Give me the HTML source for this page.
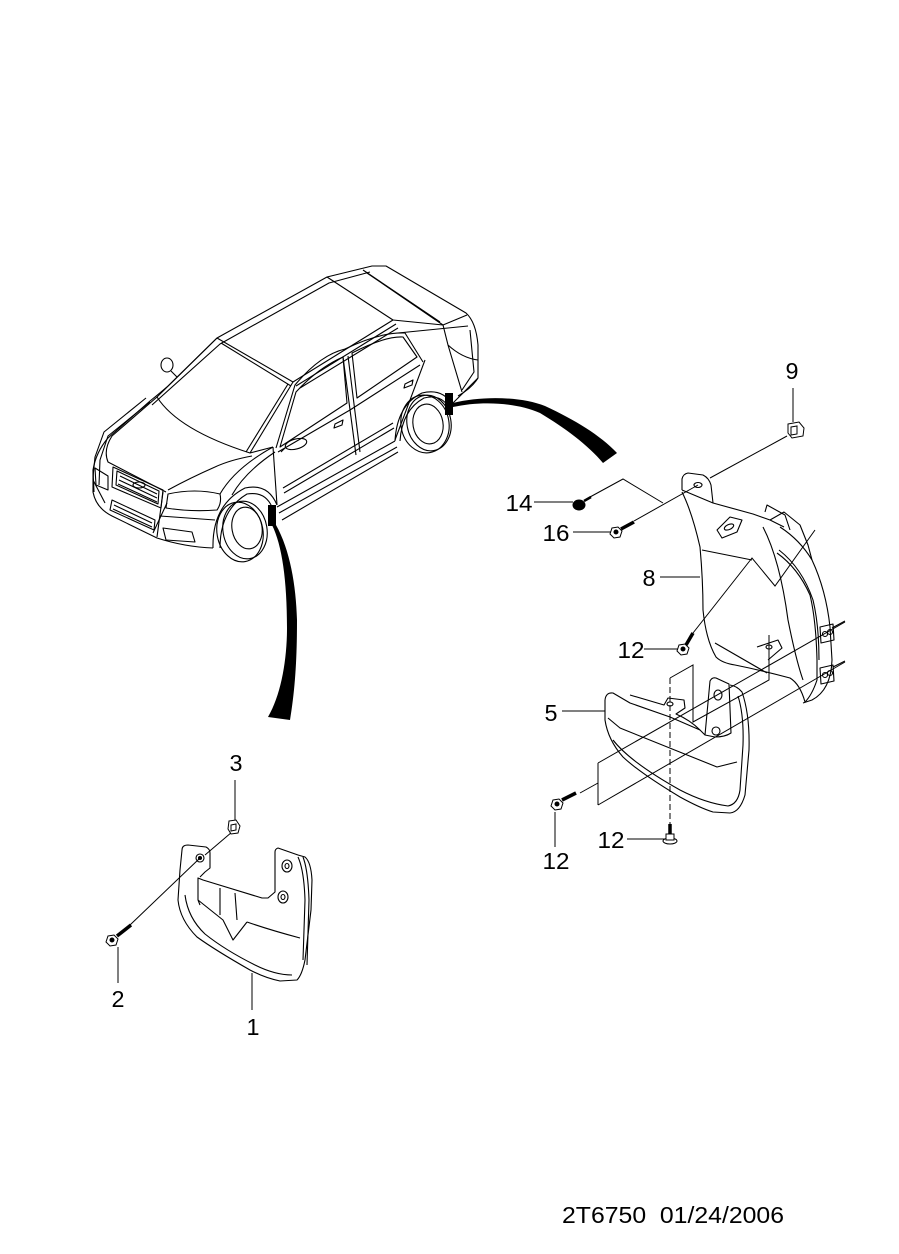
<!DOCTYPE html>
<html><head><meta charset="utf-8"><style>
html,body{margin:0;padding:0;background:#fff;}
svg{display:block;}
text{font-family:"Liberation Sans",Arial,sans-serif;font-size:23px;fill:#000;}
</style></head><body>
<svg width="899" height="1254" viewBox="0 0 899 1254" xmlns="http://www.w3.org/2000/svg">
<rect width="899" height="1254" fill="#fff"/>

<!-- ============ CAR ============ -->
<g fill="none" stroke="#000" stroke-width="1.1" stroke-linejoin="round">
<!-- far silhouette -->
<path d="M94,492 L93,470 Q96,452 108,438 L150,401 Q160,393 168,386 L217,338 L327,277 L372,266 L386,266 L466,313 Q476,322 478,345 L478,378 Q472,388 458,396"/>
<path d="M152,405 L220,344 L329,283 L370,272"/>
<path d="M146,398 L104,432 L95,457 L93,477"/>
<path d="M150,402 L108,436 L100,460 L99,485"/>
<!-- roof -->
<path d="M217,338 L293,382 L393,320 L327,277"/>
<path d="M221,343 L291,386"/>
<path d="M296,386 L396,324"/>
<path d="M300,388 L398,328"/>
<!-- rear window / trunk -->
<path d="M367,273 L443,325 L467,315"/>
<path d="M363,270 L440,322"/>
<path d="M393,320 L443,325"/>
<path d="M443,325 L448,345 L462,392"/>
<path d="M398,333 L468,326"/>
<path d="M448,345 Q462,358 478,360"/>
<path d="M470,330 L474,372 L462,390"/>
<!-- windshield -->
<path d="M217,338 L157,397 Q178,430 250,453 L293,382"/>
<path d="M246,452 L288,384"/>
<!-- hood -->
<path d="M157,397 L112,436 Q103,450 108,462 L166,492"/>
<path d="M250,453 L273,447"/>
<path d="M252,456 Q230,460 215,467 Q190,478 168,490"/>
<path d="M273,447 Q235,468 220,494"/>
<path d="M275,452 Q245,472 232,495"/>
<!-- grille -->
<path d="M113,467 L163,490 L161,508 L112,487 Z"/>
<path d="M117,471 L159,491 L158,504 L116,485 Z"/>
<path d="M120,476 L157,494 M119,480 L157,498 M118,484 L157,502"/>
<ellipse cx="139" cy="485" rx="6" ry="3"/>
<!-- headlights -->
<path d="M168,494 Q195,488 220,494 Q222,503 217,510 Q190,512 166,508 Z"/>
<path d="M95,468 L108,476 L108,490 L96,485 Z"/>
<!-- bumper -->
<path d="M93,470 L93,492 Q96,508 112,516 L157,538 Q185,547 213,548"/>
<path d="M167,503 L153,533"/>
<path d="M163,492 L157,537"/>
<path d="M112,500 L155,520 L154,530 L110,510 Z"/>
<path d="M114,505 L152,523 M113,509 L152,527"/>
<path d="M163,528 L192,532 L195,542 L166,540 Z"/>
<path d="M160,516 L215,520"/>
<path d="M93,480 L105,503"/>
<!-- front wheel -->
<path d="M213,548 Q212,505 245,488 Q268,483 277,505"/>
<path d="M220,548 Q220,510 247,494 Q265,491 272,507"/>
<ellipse cx="240" cy="532" rx="23" ry="30" transform="rotate(-10 240 532)"/>
<ellipse cx="245" cy="530" rx="22" ry="29" transform="rotate(-10 245 530)"/>
<ellipse cx="247" cy="528" rx="15" ry="21" transform="rotate(-10 247 528)"/>
<!-- doors / windows -->
<path d="M273,447 L277,505"/>
<path d="M280,447 L296,392 Q318,368 343,357 L347,403 Z"/>
<path d="M276,448 L295,385 Q320,355 345,349 Q380,332 405,333 L423,362"/>
<path d="M278,452 L350,410 L420,365"/>
<path d="M343,357 L356,455 M348,356 L360,452"/>
<path d="M352,353 Q385,336 403,337 L417,357 L357,398 Z"/>
<path d="M425,360 L395,440"/>
<path d="M277,507 L395,441 M279,513 L397,447 M282,520 L398,452"/>
<path d="M283,488 L393,423 M284,493 L394,428"/>
<path d="M335,424 L343,420 L342,425 L334,428 Z"/>
<path d="M405,384 L413,380 L412,385 L404,388 Z"/>
<ellipse cx="296" cy="444" rx="11" ry="5" transform="rotate(-15 296 444)"/>
<path d="M286,447 L281,452"/>
<ellipse cx="167" cy="365" rx="6" ry="7"/>
<path d="M171,371 L177,377"/>
<!-- rear wheel -->
<path d="M395,441 Q397,405 422,393 Q442,388 452,404"/>
<path d="M400,441 Q402,410 424,398 Q440,394 448,406"/>
<ellipse cx="425" cy="424" rx="24" ry="29" transform="rotate(-10 425 424)"/>
<ellipse cx="429" cy="423" rx="22" ry="28" transform="rotate(-10 429 423)"/>
<ellipse cx="428" cy="424" rx="15" ry="20" transform="rotate(-10 428 424)"/>
<path d="M452,404 L478,378"/>
</g>

<!-- thick bands -->
<g fill="#000" stroke="none">
<rect x="268" y="505" width="8" height="21"/>
<path d="M272,525 C282,545 287,580 287,628 C287,660 281,695 268,717 L290,720 C295,690 297,660 297,620 C296,585 290,550 276,525 Z"/>
<rect x="445" y="393" width="8" height="22"/>
<path d="M453,403 C480,396 520,396 545,406 C575,420 600,435 617,453 L603,463 C588,445 565,428 540,413 C515,402 480,401 453,407 Z"/>
</g>

<!-- ============ PART 8 ============ -->
<g fill="none" stroke="#000" stroke-width="1.1" stroke-linejoin="round">
<path d="M682,490 L682,479 Q683,474 688,473 L703,475 Q709,478 711,485 L713,503"/>
<ellipse cx="698" cy="485" rx="4" ry="2.5"/>
<path d="M682,490 L713,503 L753,514 L770,520 L784,527"/>
<path d="M682,492 Q692,512 700,547 Q703,580 703,610 Q706,640 716,657 Q722,663 735,665 Q760,670 790,678 Q800,684 805,702"/>
<path d="M780,527 Q800,540 812,560 Q826,590 830,627 L832,660 Q831,690 812,700 L803,703"/>
<path d="M777,553 Q798,568 810,595 Q816,620 817,660 L817,680 Q812,695 805,702"/>
<path d="M779,550 Q802,568 813,600 Q819,625 819,660"/>
<path d="M763,527 Q780,560 788,620 Q796,660 803,680"/>
<path d="M765,512 L767,505 L785,515 L790,530"/>
<path d="M770,520 L784,512 L800,525 L808,545 L812,560"/>
<path d="M702,550 L752,560"/>
<path d="M717,530 L730,517 L742,520 L737,532 L722,538 Z"/>
<ellipse cx="729" cy="527" rx="5" ry="2.5" transform="rotate(-25 729 527)"/>
<path d="M757,647 L778,640 L782,648 L768,660"/>
<ellipse cx="769" cy="647" rx="3" ry="2"/>
<path d="M715,643 L767,673"/>
<path d="M820,627 L833,624 L834,640 L821,643 Z"/>
<circle cx="825" cy="634" r="2.5"/><circle cx="830" cy="632" r="2.5"/>
<path d="M820,668 L833,665 L834,681 L821,684 Z"/>
<circle cx="825" cy="675" r="2.5"/><circle cx="830" cy="673" r="2.5"/>
<path d="M832,628 L845,621 M833,667 L845,661"/>
</g>

<!-- ============ PART 5 ============ -->
<g fill="none" stroke="#000" stroke-width="1.1" stroke-linejoin="round">
<path d="M605,700 Q606,692 613,693 L630,703 L670,717 L700,730 L705,735"/>
<path d="M605,700 L605,720 Q608,740 623,757 Q640,773 680,797 Q700,808 713,812 L730,813 Q740,812 745,795 L749,750 Q750,715 742,692 Q737,686 730,685"/>
<path d="M705,735 L710,681 Q712,677 716,678 L729,684 L731,733 Q725,737 715,737 Z"/>
<ellipse cx="718" cy="695" rx="4" ry="5"/>
<ellipse cx="716" cy="731" rx="4" ry="4"/>
<path d="M608,718 L620,728 L717,767 L737,762"/>
<path d="M613,740 Q630,762 680,790 Q705,803 728,806 Q738,804 740,790 L743,745 Q744,715 738,696"/>
<path d="M630,695 L664,705 L668,698 L684,700 L685,708 L676,714 Q690,720 700,730"/>
<ellipse cx="670" cy="704" rx="3" ry="2"/>
</g>

<!-- ============ PART 1 ============ -->
<g fill="none" stroke="#000" stroke-width="1.1" stroke-linejoin="round">
<path d="M182,850 L180,870 L178,900 Q180,920 197,937 Q215,950 250,970 Q265,978 280,981 L297,980 Q302,975 305,960 L311,910 L312,880 Q311,862 305,857 L298,855 L278,848 Q275,849 275,852"/>
<path d="M182,850 Q182,845 188,845 L206,847 Q210,849 210,853 L210,868 L205,872 L200,877"/>
<circle cx="200" cy="858" r="4"/>
<circle cx="200" cy="858" r="1.5" fill="#000"/>
<path d="M185,895 Q188,918 205,934 Q225,950 255,965 Q275,975 292,975"/>
<path d="M275,852 L275,892 L268,898 L262,898 L203,880 L198,878 L198,900"/>
<ellipse cx="287" cy="866" rx="5" ry="6"/>
<ellipse cx="287" cy="866" rx="2" ry="2.5"/>
<ellipse cx="283" cy="897" rx="5" ry="6"/>
<ellipse cx="283" cy="897" rx="2" ry="2.5"/>
<path d="M298,857 Q304,870 305,900 L303,960"/>
<path d="M303,857 Q308,870 309,900 L307,965"/>
<path d="M198,900 L223,920 L233,940 L247,922"/>
<path d="M220,888 L220,915 M235,893 L237,920"/>
<path d="M247,922 Q270,930 300,938"/>
<path d="M198,900 L200,905"/>
</g>

<!-- ============ CONNECTORS ============ -->
<g fill="none" stroke="#000" stroke-width="1">
<path d="M787,436 L710,478"/>
<path d="M634,521 L698,485"/>
<path d="M590,497 L623,479 L663,503"/>
<path d="M693,633 L752,558 L775,586 L815,530"/>
<path d="M580,793 L598,783"/>
<path d="M598,763 L598,805"/>
<path d="M598,763 L845,622"/>
<path d="M598,805 L845,662"/>
<path d="M670,678 L693,665 L693,722 L769,680 L769,635"/>
<path d="M670,678 L670,827" stroke-dasharray="6,3"/>
<path d="M232,832 L205,855"/>
<path d="M130,925 L200,858"/>
<!-- leaders -->
<path d="M793,388 L793,422"/>
<path d="M534,502 L573,502"/>
<path d="M573,532 L612,532"/>
<path d="M660,577 L700,577"/>
<path d="M644,649 L680,649"/>
<path d="M562,711 L605,711"/>
<path d="M627,839 L665,839"/>
<path d="M555,812 L555,847"/>
<path d="M235,780 L235,822"/>
<path d="M118,947 L118,983"/>
<path d="M252,973 L252,1010"/>
</g>

<!-- ============ FASTENERS ============ -->
<g stroke="#000" stroke-width="1">
<ellipse cx="579" cy="505" rx="6" ry="5" fill="#000"/>
<path d="M584,501 L591,497" stroke-width="2.5"/>
<polygon points="612,528 618,527 622,531 620,537 614,538 610,534" fill="#fff"/>
<circle cx="616" cy="532" r="2" fill="#000"/>
<path d="M621,529 L634,522" stroke-width="3.5"/>
<polygon points="679,645 685,644 689,648 687,654 681,655 677,651" fill="#fff"/>
<circle cx="683" cy="649" r="2" fill="#000"/>
<path d="M686,645 L693,633" stroke-width="3.5"/>
<polygon points="553,800 559,799 563,803 561,809 555,810 551,806" fill="#fff"/>
<circle cx="557" cy="804" r="2" fill="#000"/>
<path d="M562,800 L576,793" stroke-width="3.5"/>
<ellipse cx="670" cy="841" rx="7" ry="3" fill="#fff"/>
<rect x="666" y="834" width="8" height="6" fill="#fff"/>
<path d="M670,834 L670,824" stroke-width="3.5"/>
<polygon points="108,936 114,935 118,939 116,945 110,946 106,942" fill="#fff"/>
<circle cx="112" cy="940" r="2" fill="#000"/>
<path d="M117,936 L131,925" stroke-width="3.5"/>
<path d="M788,424 L799,422 L804,428 L803,436 L792,438 L788,433 Z" fill="#fff"/>
<path d="M791,427 L797,426 L797,434 L791,435 Z" fill="none"/>
<path d="M229,821 L236,820 L240,826 L238,833 L231,834 L228,829 Z" fill="#fff"/>
<path d="M231,825 L236,824 L236,830 L231,831 Z" fill="none"/>
</g>

<!-- ============ LABELS ============ -->
<g>
<text x="792" y="379" text-anchor="middle" textLength="13" lengthAdjust="spacingAndGlyphs">9</text>
<text x="519" y="511" text-anchor="middle" textLength="27" lengthAdjust="spacingAndGlyphs">14</text>
<text x="556" y="541" text-anchor="middle" textLength="27" lengthAdjust="spacingAndGlyphs">16</text>
<text x="649" y="586" text-anchor="middle" textLength="13" lengthAdjust="spacingAndGlyphs">8</text>
<text x="631" y="658" text-anchor="middle" textLength="27" lengthAdjust="spacingAndGlyphs">12</text>
<text x="551" y="721" text-anchor="middle" textLength="13" lengthAdjust="spacingAndGlyphs">5</text>
<text x="611" y="848" text-anchor="middle" textLength="27" lengthAdjust="spacingAndGlyphs">12</text>
<text x="556" y="869" text-anchor="middle" textLength="27" lengthAdjust="spacingAndGlyphs">12</text>
<text x="236" y="771" text-anchor="middle" textLength="13" lengthAdjust="spacingAndGlyphs">3</text>
<text x="118" y="1007" text-anchor="middle" textLength="13" lengthAdjust="spacingAndGlyphs">2</text>
<text x="253" y="1035" text-anchor="middle" textLength="13" lengthAdjust="spacingAndGlyphs">1</text>
<text x="562" y="1223" textLength="222" lengthAdjust="spacingAndGlyphs" xml:space="preserve">2T6750  01/24/2006</text>
</g>
</svg>
</body></html>
